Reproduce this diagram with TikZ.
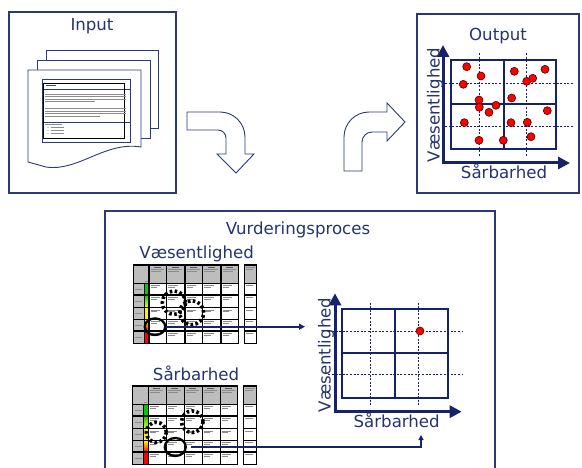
\documentclass[tikz,border=0pt]{standalone}
\usepackage{fontspec}
\setmainfont{DejaVu Sans}
\usetikzlibrary{arrows.meta,shapes.geometric}
\definecolor{navy}{HTML}{2A3A78}
\definecolor{axisnavy}{HTML}{16226A}
\definecolor{textnavy}{HTML}{24346F}
\definecolor{tgray}{HTML}{BDBDBD}
\tikzset{
 frame/.style={draw=navy, line width=1.1pt},
 lbl/.style={text=textnavy, inner sep=0pt, font=\fontsize{16.6}{18}\selectfont},
 page/.style={draw=navy, fill=white, line width=0.9pt},
 bigarrow/.style={draw=navy, fill=white, line width=0.9pt},
 gridline/.style={draw=axisnavy, line width=1.8pt},
 dashline/.style={draw=axisnavy, line width=0.9pt, dash pattern=on 2pt off 1.6pt},
 axisline/.style={draw=axisnavy, line width=3pt, {Triangle[length=12pt,width=12pt]}-{Triangle[length=12pt,width=12pt]}},
 dot/.style={circle, fill=red, draw=black!70!red, line width=0.6pt, minimum size=8pt, inner sep=0pt},
 tline/.style={draw=black!45, line width=0.5pt},
 tgrid/.style={draw=black, line width=1.1pt},
 dotring/.style={draw=black, line width=3.6pt, dash pattern=on 2.6pt off 2.4pt, circle, inner sep=0pt},
 ring/.style={draw=black, line width=2.3pt, ellipse, inner sep=0pt},
 conn/.style={draw=axisnavy, -{Triangle[length=5pt,width=5pt]}},
}
\newcommand{\rtable}[2]{%
\begin{scope}[shift={(#1,#2)}]
 \fill[tgray] (0,0) rectangle (105,18.3);
 \fill[tgray] (0,18.3) rectangle (11,78.3);
 \fill[tgray] (111,0) rectangle (123.4,18.3);
 \fill[green!80!black] (11,18.3) rectangle (15.7,30);
 \shade[top color=green!80!black, bottom color=yellow] (11,30) rectangle (15.7,42.7);
 \fill[yellow] (11,42.7) rectangle (15.7,54.3);
 \shade[top color=yellow, bottom color=red] (11,54.3) rectangle (15.7,66);
 \fill[red] (11,66) rectangle (15.7,78.3);
 \foreach \cx in {15.7,33.4,51.7,69.4,87.7}{
   \foreach \ry in {18.3,30,42.7,54.3,66}{
     \draw[tline] (\cx+1.5,\ry+2.2) -- (\cx+11,\ry+2.2);
     \draw[tline] (\cx+1.5,\ry+4) -- (\cx+8,\ry+4);
   }
   \draw[tline, black!65] (\cx+5,2) -- (\cx+12,2);
   \draw[tline] (\cx+1.5,4.5) -- (\cx+15,4.5);
   \draw[tline] (\cx+1.5,6.5) -- (\cx+12,6.5);
 }
 \foreach \ry in {18.3,30,42.7,54.3,66}{
   \draw[tline] (2,\ry+6) -- (9,\ry+6);
   \draw[tline] (112.5,\ry+2.2) -- (120,\ry+2.2);
 }
 \draw[tline] (112.5,2.5) -- (122,2.5);
 \draw[tline] (112.5,4.5) -- (120,4.5);
 \draw[tline] (11.5,16) -- (14.5,16);
 \draw[tgrid] (0,0) rectangle (105,78.3);
 \draw[tgrid] (111,0) rectangle (123.4,78.3);
 \foreach \ry in {18.3,30,42.7,54.3,66}{
   \draw[tgrid] (0,\ry) -- (105,\ry);
   \draw[tgrid] (111,\ry) -- (123.4,\ry);
 }
 \foreach \cx in {15.7,33.4,51.7,69.4,87.7}{\draw[tgrid] (\cx,0) -- (\cx,78.3);}
 \draw[tgrid] (11,18.3) -- (11,78.3);
\end{scope}}
\begin{document}
\begin{tikzpicture}[x=1pt,y=-1pt]
\useasboundingbox (0,0) rectangle (582,468);
\fill[white] (0,0) rectangle (582,468);

% ---------- Input box ----------
\draw[frame] (9,12) rectangle (176,193);
\node[lbl, anchor=base] (input) at (92,31) {Input};
\draw[page] (46,50) rectangle (158,128);
\draw[page] (37,60) rectangle (150,138);
\draw[page] (28,70) -- (141,70) -- (141,147) .. controls (105,141) and (78,172) .. (46,167) -- (28,162) -- cycle;
\draw[draw=navy, line width=0.8pt] (42,79) rectangle (130,142);
\draw[draw=navy, line width=0.8pt] (42,89) -- (130,89) (42,122) -- (130,122);
\draw[draw=black, line width=0.8pt] (43,83) rectangle (124,138);
\draw[tline, black!70] (46,85.5) -- (56,85.5);
\foreach \yy in {94,96.7,99.3} {\draw[tline] (45,\yy) -- (126,\yy);}
\draw[tline] (45,101.7) -- (95,101.7);
\foreach \yy in {108.3,111,113.3} {\draw[tline] (45,\yy) -- (126,\yy);}
\draw[tline] (45,116) -- (100,116);
\draw[tline] (45,124.5) -- (62,124.5);
\foreach \yy in {127.5,130.5,133.5} {\fill[black!60] (48,\yy) circle (0.5); \draw[tline] (51,\yy) -- (64,\yy);}

% ---------- bent arrows ----------
\draw[bigarrow] (187,112) -- (220,112) .. controls (233.8,112) and (245,123.2) .. (245,137) -- (245,154) -- (254,154) -- (236,173) -- (217,154) -- (226,154) -- (226,138) .. controls (226,133.6) and (222.4,130) .. (218,130) -- (187,130) -- cycle;
\draw[bigarrow] (344,171) -- (344,137) .. controls (344,123.2) and (355.2,112) .. (369,112) -- (387,112) -- (387,103) -- (405,122) -- (387,141) -- (387,132) -- (372,132) .. controls (366.5,132) and (362,136.5) .. (362,142) -- (362,171) -- cycle;

% ---------- Output box ----------
\draw[frame] (417,14) rectangle (579,193);
\node[lbl, anchor=base] (output) at (498,40.5) {Output};
\draw[gridline] (451,60) rectangle (556,149);
\draw[gridline] (504,60) -- (504,149) (451,104) -- (556,104);
\draw[dashline] (479,53) -- (479,156) (526,53) -- (526,156) (445,83) -- (573,83) (445,126) -- (573,126);
\draw[axisline] (443,45) -- (443,163) -- (570,163);
\node[lbl, anchor=base, rotate=90] (oy) at (439.5,105) {Væsentlighed};
\node[lbl, anchor=base] (ox) at (504,178.3) {Sårbarhed};
\foreach \px/\py [count=\i] in {466.7/66.7,481/76,463.3/84.3,514.3/71.3,526.7/81.3,532.7/78.3,545/69.3,479/100,479.3/107.3,489/112.3,496/105.3,511.7/98,547.3/110.7,464.3/122.7,511/122.7,527.3/122.3,531/136.7,479/140.3,503.3/140.3}
  {\node[dot] (od\i) at (\px,\py) {};}

% ---------- Vurderingsproces box ----------
\draw[frame] (105,472) -- (105,211) -- (495,211) -- (495,472);
\node[lbl, anchor=base] (proc) at (298,235) {Vurderingsproces};
\node[lbl, anchor=base] (vtitle) at (196.7,259) {Væsentlighed};
\node[lbl, anchor=base] (stitle) at (196,380.7) {Sårbarhed};

\rtable{133.3}{265}
\rtable{132.7}{386}

\node[dotring, minimum size=23.4pt] (v1) at (174,302.7) {};
\node[dotring, minimum size=24pt] (v2) at (191.7,312.7) {};
\node[ring, minimum width=20.6pt, minimum height=16.6pt] (vs) at (155,326.7) {};
\node[dotring, minimum size=20pt] (s1) at (156.3,432.3) {};
\node[dotring, minimum size=21.6pt] (s2) at (192.3,421.7) {};
\node[ring, minimum width=21pt, minimum height=18pt] (ss) at (175.3,447) {};

% bottom chart
\draw[gridline] (342.3,309) rectangle (447.7,397.7);
\draw[gridline] (395.3,309) -- (395.3,397.7) (342.3,353.3) -- (447.7,353.3);
\draw[dashline] (370.7,302.7) -- (370.7,405) (418.3,302.7) -- (418.3,405) (328.3,331.7) -- (463.3,331.7) (328.3,374.3) -- (463.3,374.3);
\draw[axisline] (335,293.3) -- (335,411.7) -- (461.7,411.7);
\node[lbl, anchor=base, rotate=90] (cy) at (330.5,355) {Væsentlighed};
\node[lbl, anchor=base] (cx) at (396.7,427.3) {Sårbarhed};
\node[dot] (cd) at (420,331) {};

% connectors
\coordinate (t1) at (305,326.7);
\coordinate (t2) at (421,435);
\draw[conn, line width=2.2pt, -{Triangle[length=6pt,width=6pt]}] (vs.east) -- (t1);
\draw[conn, line width=1.3pt] ([xshift=4pt]ss.east) -| (t2);
\end{tikzpicture}
\end{document}
